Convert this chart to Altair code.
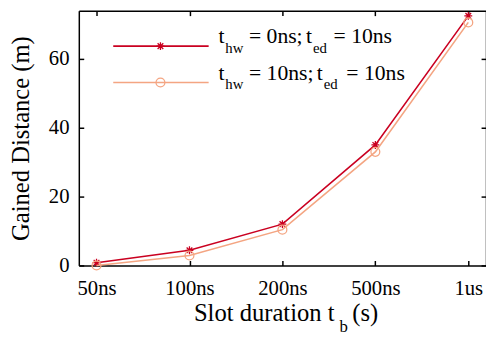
import altair as alt
import pandas as pd

# ---- data ----
categories = ["50ns", "100ns", "200ns", "500ns", "1us"]
gain_hw0 = [0.8, 4.4, 12.0, 35.0, 72.5]    # t_hw = 0ns; t_ed = 10ns
gain_hw10 = [0.0, 2.9, 10.4, 33.0, 70.6]   # t_hw = 10ns; t_ed = 10ns
series_names = ["hw0", "hw10"]
y_ticks = [0, 20, 40, 60]

RED = "#ca0020"
ORANGE = "#f4a582"
FONT = "Liberation Serif"
W, H = 414, 259
PX0, PY0 = 80, 8  # page position of plot origin

df = pd.DataFrame({
    "duration": categories * 2,
    "series": [series_names[0]] * len(categories) + [series_names[1]] * len(categories),
    "gain": gain_hw0 + gain_hw10,
})

xscale = alt.Scale(type="point", domain=categories, padding=0.1905)
yscale = alt.Scale(domain=[0, 74], nice=False, zero=True)

STAR = "M0,-1L0,1M-1,0L1,0M-0.72,-0.72L0.72,0.72M-0.72,0.72L0.72,-0.72"


def X(axis):
    return alt.X("duration:N", scale=xscale, axis=axis)


def Y(axis):
    return alt.Y("gain:Q", scale=yscale, axis=axis)


common_lab = dict(labelFont=FONT, labelFontSize=21, labelColor="black", grid=False)

x_main = alt.Axis(orient="bottom", title=None, ticks=False, domain=True,
                  domainColor="black", domainWidth=1.5, labelPadding=13,
                  labelAngle=0, **common_lab)
y_main = alt.Axis(orient="left", values=y_ticks, title="Gained Distance (m)",
                  titleFont=FONT, titleFontSize=25, titleFontWeight="normal",
                  titleColor="black", titleX=-51, titleY=H / 2, titleAngle=-90,
                  titleBaseline="alphabetic", titleAlign="center",
                  ticks=False, domain=True, domainColor="black", domainWidth=1.5,
                  labelPadding=10, **common_lab)

tick_style = dict(labels=False, title=None, grid=False, ticks=True, tickSize=5,
                  tickWidth=1.5, tickColor="black")
x_in_bottom = alt.Axis(orient="top", offset=-H, domain=False, values=categories, **tick_style)
y_in_left = alt.Axis(orient="right", offset=-W, domain=False, values=y_ticks, **tick_style)
x_in_top = alt.Axis(orient="bottom", offset=-H, domain=True, domainColor="black",
                    domainWidth=1.5, values=categories, **tick_style)
y_in_right = alt.Axis(orient="left", offset=-W, domain=True, domainColor="black",
                      domainWidth=1.5, values=y_ticks, **tick_style)

base = alt.Chart(df)
s0 = base.transform_filter(alt.datum.series == series_names[0])
s1 = base.transform_filter(alt.datum.series == series_names[1])

red_line = s0.mark_line(color=RED, strokeWidth=1.6).encode(x=X(x_main), y=Y(y_main))
red_pts = s0.mark_point(shape=STAR, size=64, color=RED, strokeWidth=1.3,
                        filled=False, opacity=1).encode(x=X(None), y=Y(None))
or_line = s1.mark_line(color=ORANGE, strokeWidth=1.6).encode(x=X(None), y=Y(None))
or_pts = s1.mark_point(shape="circle", size=81, color=ORANGE, strokeWidth=1.3,
                       filled=False, opacity=1).encode(x=X(None), y=Y(None))

ticks_a = base.mark_line(opacity=0).encode(x=X(x_in_bottom), y=Y(y_in_left))
ticks_b = base.mark_line(opacity=0).encode(x=X(x_in_top), y=Y(y_in_right))

one = alt.Data(values=[{"k": 0}])


def txt(s, x, y, size):
    return alt.Chart(one).mark_text(text=s, align="left", baseline="alphabetic",
                                    font=FONT, fontSize=size, color="black").encode(
        x=alt.value(x - PX0), y=alt.value(y - PY0))


def leg_line(color, y):
    return alt.Chart(one).mark_rule(color=color, strokeWidth=1.6).encode(
        x=alt.value(115 - PX0), x2=alt.value(212 - PX0), y=alt.value(y - PY0))


def leg_pt(shape, size, color, y):
    return alt.Chart(one).mark_point(shape=shape, size=size, color=color,
                                     strokeWidth=1.3, filled=False, opacity=1).encode(
        x=alt.value(163 - PX0), y=alt.value(y - PY0))


legend_layers = [
    leg_line(RED, 44), leg_pt(STAR, 64, RED, 44),
    leg_line(ORANGE, 81), leg_pt("circle", 81, ORANGE, 81),
    txt("t", 222, 41, 22), txt("hw", 229, 51, 15), txt("= 0ns;", 253, 41, 22),
    txt("t", 311, 41, 22), txt("ed", 318, 51, 15), txt("= 10ns", 339, 41, 22),
    txt("t", 222, 78, 22), txt("hw", 229, 88, 15), txt("= 10ns;", 253, 78, 22),
    txt("t", 322, 78, 22), txt("ed", 329, 88, 15), txt("= 10ns", 352, 78, 22),
    # x-axis title with subscript
    txt("Slot duration t", 197, 323, 25), txt("b", 345, 335, 17), txt("(s)", 358, 323, 25),
]

chart = alt.layer(
    red_line, red_pts, or_line, or_pts, ticks_a, ticks_b, *legend_layers
).resolve_axis(x="independent", y="independent").properties(
    width=W, height=H,
    padding={"left": 72, "top": 0, "right": 0, "bottom": 70},
    autosize=alt.AutoSizeParams(type="none"),
    background="white",
).configure(font=FONT).configure_view(stroke=None)

chart.save("out.html", embed_options={"renderer": "svg", "actions": False})
